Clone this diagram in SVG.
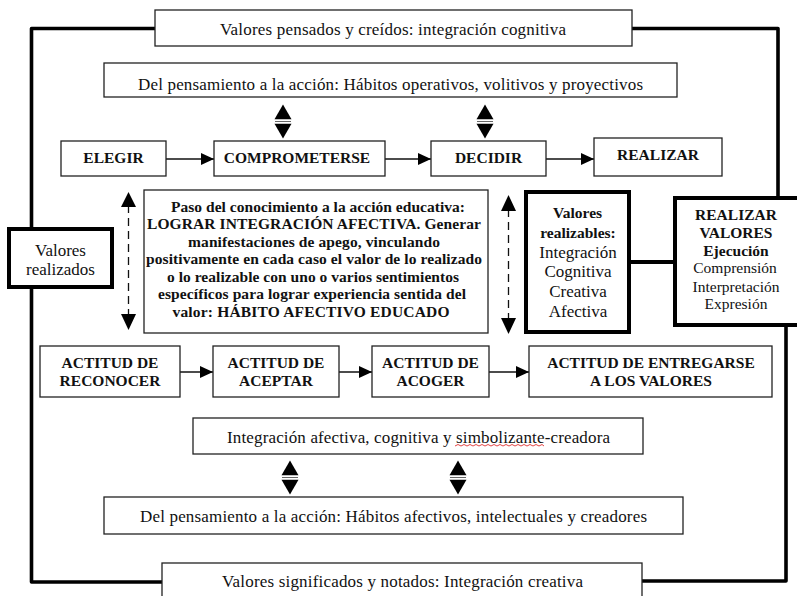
<svg xmlns="http://www.w3.org/2000/svg" width="797" height="596" viewBox="0 0 797 596" font-family="Liberation Serif">
<style>
text{fill:#111;text-anchor:middle}
.r{font-size:17px}
.rs{font-size:15.5px}
.b{font-size:15.5px;font-weight:bold}
.box{fill:#fff;stroke:#222;stroke-width:1.3}
.tbox{fill:#fff;stroke:#000;stroke-width:4}
.frame{fill:none;stroke:#000;stroke-width:3.6;stroke-linejoin:round}
.arr{fill:none;stroke:#111;stroke-width:1.3}
.dash{fill:none;stroke:#111;stroke-width:1.3;stroke-dasharray:8 5}
.head{fill:#000}
</style>
<defs>
<marker id="ah" markerUnits="userSpaceOnUse" markerWidth="13" markerHeight="12" refX="13" refY="6" orient="auto">
<path d="M0,0 L13,6 L0,12 z" fill="#000"/>
</marker>
<g id="dbl">
<path d="M0,-17 L8.5,-2.2 L-8.5,-2.2 z" fill="#000"/>
<path d="M-8.5,2.2 L8.5,2.2 L0,17 z" fill="#000"/>
<line x1="-8" y1="0" x2="8" y2="0" stroke="#666" stroke-width="1"/>
</g>
</defs>

<g id="connectors">
<path class="frame" d="M155,28.5 H31.5 V582 H162"/>
<path class="frame" d="M632,28.5 H778 V197"/>
<path class="frame" d="M786,326 V581 H642"/>
<line x1="631" y1="262" x2="673" y2="262" stroke="#000" stroke-width="4"/>
<line class="arr" x1="166" y1="159" x2="214" y2="159" marker-end="url(#ah)"/>
<line class="arr" x1="385" y1="159" x2="431" y2="159" marker-end="url(#ah)"/>
<line class="arr" x1="546" y1="159" x2="594" y2="159" marker-end="url(#ah)"/>
<line class="arr" x1="180" y1="372" x2="213" y2="372" marker-end="url(#ah)"/>
<line class="arr" x1="339" y1="372" x2="372" y2="372" marker-end="url(#ah)"/>
<line class="arr" x1="489" y1="372" x2="529" y2="372" marker-end="url(#ah)"/>
<use href="#dbl" x="283" y="121.5"/>
<use href="#dbl" x="485" y="121.5"/>
<use href="#dbl" x="290" y="477.5"/>
<use href="#dbl" x="458" y="477.5"/>
<line class="dash" x1="128.5" y1="205" x2="128.5" y2="315"/>
<path class="head" d="M128.5,192 L136,207 L121,207 z"/>
<path class="head" d="M121,314 L136,314 L128.5,330 z"/>
<line class="dash" x1="508.5" y1="209" x2="508.5" y2="319"/>
<path class="head" d="M508.5,195 L516,211 L501,211 z"/>
<path class="head" d="M501,318 L516,318 L508.5,334 z"/>
</g>

<g id="top-cognitiva">
<rect class="box" x="155" y="10" width="477" height="36"/>
<text class="r" x="393" y="35" textLength="346">Valores pensados y creídos: integración cognitiva</text>
</g>
<g id="habitos-operativos">
<rect class="box" x="104" y="63" width="573" height="34"/>
<text class="r" x="390.5" y="90" textLength="505">Del pensamiento a la acción: Hábitos operativos, volitivos y proyectivos</text>
</g>

<g id="elegir">
<rect class="box" x="61" y="141" width="105" height="35"/>
<text class="b" x="113.5" y="163">ELEGIR</text>
</g>
<g id="comprometerse">
<rect class="box" x="214" y="141" width="171" height="35"/>
<text class="b" x="297" y="163">COMPROMETERSE</text>
</g>
<g id="decidir">
<rect class="box" x="431" y="141" width="115" height="35"/>
<text class="b" x="488.5" y="162.5">DECIDIR</text>
</g>
<g id="realizar">
<rect class="box" x="594" y="138" width="128" height="38"/>
<text class="b" x="658" y="160">REALIZAR</text>
</g>

<g id="paso-conocimiento">
<rect class="box" x="144" y="190" width="344" height="143"/>
<text class="b" x="318" y="211.5" textLength="294">Paso del conocimiento a la acción educativa:</text>
<text class="b" x="314" y="229" textLength="334">LOGRAR INTEGRACIÓN AFECTIVA. Generar</text>
<text class="b" x="314" y="246.5" textLength="252">manifestaciones de apego, vinculando</text>
<text class="b" x="314" y="264" textLength="336">positivamente en cada caso el valor de lo realizado</text>
<text class="b" x="313" y="281.5" textLength="292">o lo realizable con uno o varios sentimientos</text>
<text class="b" x="312" y="299" textLength="308">específicos para lograr experiencia sentida del</text>
<text class="b" x="311" y="316.5" textLength="277">valor: HÁBITO AFECTIVO EDUCADO</text>
</g>

<g id="valores-realizados">
<rect class="tbox" x="9" y="229" width="103" height="58"/>
<text class="r" x="60.5" y="256">Valores</text>
<text class="r" x="60.5" y="275">realizados</text>
</g>

<g id="valores-realizables">
<rect class="tbox" x="526" y="192" width="103" height="140"/>
<text class="b" x="577.5" y="218">Valores</text>
<text class="b" x="578" y="238">realizables:</text>
<text class="r" x="578" y="257.5">Integración</text>
<text class="r" x="578" y="277">Cognitiva</text>
<text class="r" x="578" y="297">Creativa</text>
<text class="r" x="578" y="317">Afectiva</text>
</g>

<g id="realizar-valores">
<rect class="tbox" x="675" y="198" width="130" height="127"/>
<text class="b" x="736" y="220">REALIZAR</text>
<text class="b" x="736" y="238">VALORES</text>
<text class="b" x="736" y="256">Ejecución</text>
<text class="rs" x="735" y="273">Comprensión</text>
<text class="rs" x="736" y="291.5">Interpretación</text>
<text class="rs" x="736" y="309">Expresión</text>
</g>

<g id="actitud-reconocer">
<rect class="box" x="40" y="346" width="140" height="51"/>
<text class="b" x="110" y="367.5">ACTITUD DE</text>
<text class="b" x="110" y="385.5">RECONOCER</text>
</g>
<g id="actitud-aceptar">
<rect class="box" x="213" y="346" width="126" height="51"/>
<text class="b" x="276" y="367.5">ACTITUD DE</text>
<text class="b" x="276" y="385.5">ACEPTAR</text>
</g>
<g id="actitud-acoger">
<rect class="box" x="372" y="346" width="117" height="51"/>
<text class="b" x="430.5" y="367.5">ACTITUD DE</text>
<text class="b" x="430.5" y="385.5">ACOGER</text>
</g>
<g id="actitud-entregarse">
<rect class="box" x="529" y="346" width="243" height="51"/>
<text class="b" x="651" y="367.5">ACTITUD DE ENTREGARSE</text>
<text class="b" x="651" y="385.5">A LOS VALORES</text>
</g>

<g id="integracion-afectiva">
<rect class="box" x="193" y="418" width="450" height="36"/>
<text class="r" x="418.5" y="443" textLength="383">Integración afectiva, cognitiva y simbolizante-creadora</text>
<polyline points="455,446 458,444.5 461,446 464,444.5 467,446 470,444.5 473,446 476,444.5 479,446 482,444.5 485,446 488,444.5 491,446 494,444.5 497,446 500,444.5 503,446 506,444.5 509,446 512,444.5 515,446 518,444.5 521,446 524,444.5 527,446 530,444.5 533,446 536,444.5 539,446 542,444.5 544,446" fill="none" stroke="#e03030" stroke-width="0.9"/>
</g>

<g id="habitos-afectivos">
<rect class="box" x="104" y="497" width="579" height="37"/>
<text class="r" x="393.5" y="522" textLength="507">Del pensamiento a la acción: Hábitos afectivos, intelectuales y creadores</text>
</g>

<g id="bottom-creativa">
<rect class="box" x="162" y="563" width="480" height="40"/>
<text class="r" x="402.5" y="587" textLength="361">Valores significados y notados: Integración creativa</text>
</g>
</svg>
